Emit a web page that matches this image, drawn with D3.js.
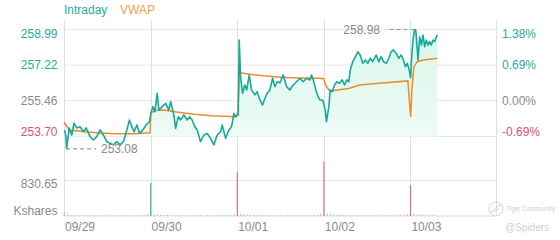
<!DOCTYPE html>
<html><head><meta charset="utf-8">
<script src="https://cdn.jsdelivr.net/npm/d3@7"></script>
<style>
html,body{margin:0;padding:0;background:#fff;}
svg{display:block;font-family:"Liberation Sans",Arial,sans-serif;}
</style></head>
<body><svg id="c" width="560" height="240"></svg>
<script>
// ---- data ----
const dayLabels = ["09/29","09/30","10/01","10/02","10/03"];
const prevClose = 255.46;
const priceTicks = [258.99, 257.22, 255.46, 253.70];
const pctTicks = ["1.38%","0.69%","0.00%","-0.69%"];
const volTick = 830.65;
const volUnit = "Kshares";
const highPrice = 258.98, highT = 4.048;
const lowPrice = 253.08, lowT = 0.03;

// time in trading days (0 = 09/29 open), price
const intraT = [
 0.008,0.022,0.030,0.061,0.089,0.116,0.147,0.185,0.223,0.255,0.301,0.339,0.378,0.417,0.455,0.494,0.532,0.571,0.610,0.648,0.686,0.726,0.756,0.784,0.810,0.841,0.872,0.911,0.949,0.987,
 1.003,1.027,1.050,1.076,1.096,1.134,1.173,1.211,1.231,1.269,1.289,1.319,1.346,1.385,1.423,1.450,1.480,1.511,1.538,1.577,1.615,1.653,1.692,1.730,1.769,1.808,1.827,1.866,1.904,1.935,1.962,1.981,
 2.012,2.023,2.039,2.062,2.089,2.109,2.139,2.166,2.204,2.231,2.262,2.293,2.320,2.346,2.377,2.409,2.435,2.462,2.493,2.531,2.570,2.608,2.646,2.685,2.723,2.761,2.801,2.839,2.858,2.885,2.908,2.935,2.954,2.985,2.999,
 3.016,3.031,3.058,3.074,3.097,3.124,3.150,3.181,3.212,3.239,3.266,3.289,3.305,3.335,3.366,3.393,3.420,3.450,3.482,3.508,3.536,3.566,3.605,3.635,3.663,3.690,3.721,3.751,3.778,3.805,3.836,3.866,3.894,3.920,3.943,3.963,3.982,
 4.003,4.010,4.029,4.048,4.062,4.088,4.107,4.127,4.145,4.165,4.184,4.203,4.222,4.241,4.261,4.280,4.299,4.311
];
const intraP = [
 254.02,253.69,253.08,254.12,253.77,254.36,254.12,254.18,253.93,254.12,253.69,253.52,253.69,254.02,253.77,253.44,253.36,253.28,253.44,253.28,253.44,254.02,254.51,254.18,253.93,254.26,253.85,254.02,254.26,254.43,
 254.84,255.17,254.92,255.83,255.00,255.17,255.34,255.00,255.42,254.76,254.10,254.67,254.51,254.76,254.51,254.67,254.51,254.18,254.02,253.44,253.77,253.85,253.61,253.28,253.77,253.93,254.26,253.61,254.02,254.18,254.84,254.67,
 254.76,258.46,256.65,255.83,256.24,255.99,256.73,255.99,255.75,255.91,255.50,255.25,255.58,255.83,255.99,256.57,256.16,256.40,256.35,256.73,256.16,255.99,256.24,256.40,256.57,256.40,256.57,256.49,256.73,256.40,255.99,255.66,255.50,255.50,255.34,
 255.00,254.43,255.17,255.99,255.91,256.24,256.40,256.32,256.49,256.24,256.49,256.40,256.98,257.39,257.64,257.88,257.72,257.31,257.47,257.31,257.56,257.39,257.72,257.39,257.64,257.39,257.31,257.56,257.88,257.97,257.80,257.56,257.72,257.47,257.14,257.31,257.06,
 256.60,257.31,258.46,258.98,258.95,257.47,258.62,258.21,258.71,258.13,258.46,258.21,258.38,258.21,258.46,258.38,258.62,258.71
];
const vwapT = [0.0,0.06,0.2,0.4,0.6,0.8,0.995, 1.003,1.05,1.15,1.3,1.5,1.7,1.985, 2.008,2.025,2.1,2.3,2.5,2.7,2.95,2.999, 3.016,3.04,3.06,3.104,3.297,3.413,3.644,3.971, 4.003,4.020,4.040,4.080,4.150,4.311];
const vwapP = [254.40,254.02,253.95,253.87,253.83,253.83,253.88, 254.84,254.98,255.00,254.90,254.80,254.72,254.67, 254.90,256.85,256.80,256.70,256.62,256.59,256.57,256.55, 256.30,256.10,255.99,255.96,256.08,256.24,256.32,256.44, 254.67,256.16,257.14,257.39,257.47,257.56];

// volume, Kshares per 15-min bar (positive = up bar, negative = down bar)
const vol0 = [-95,30,-20,25,15,-20,18,12,-15,20,10,-12,15,18,-10,12,14,-16,20,12,-15,18,22,-25,30,40];
const vol1 = [772,40,-35,25,20,-30,18,15,-20,12,16,-14,10,18,-20,15,12,-22,14,16,-18,20,25,-30,35,45];
const vol2 = [-1037,60,-40,30,25,-35,20,18,-22,16,14,-18,15,20,-16,12,18,-20,15,14,-18,22,20,-28,30,-60];
const vol3 = [-1271,70,-45,35,28,-30,24,20,-18,22,16,-15,18,14,-20,16,12,-18,20,15,-22,24,18,-25,30,-50];
const vol4 = [-725,60,-40,35,-30,25,20,-22];

// ---- drawing ----
const svg = d3.select("#c");
const teal = "#16a99a", orange = "#ef8a2a", red = "#e0506e", gray = "#8a8a8a", grid = "#e6e6e6";
const L = 64, R = 496;
const x = d3.scaleLinear().domain([0,5]).range([L, 497]);
const y = d3.scaleLinear().domain([253.70, 258.99]).range([136.4, 29.3]);
const yv = d3.scaleLinear().domain([0, volTick]).range([216, 180.5]);

// defs
const defs = svg.append("defs");
const g = defs.append("linearGradient").attr("id","mint").attr("x1",0).attr("y1",0).attr("x2",0).attr("y2",1);
g.append("stop").attr("offset","0%").attr("stop-color","#d8f6ea");
g.append("stop").attr("offset","100%").attr("stop-color","#f1fcf7");
defs.append("clipPath").attr("id","clipP").append("rect").attr("x",L).attr("y",0).attr("width",R-L).attr("height",y(253.70));

// horizontal grid (price)
svg.append("g").selectAll("line").data(priceTicks).join("line")
  .attr("x1",L).attr("x2",R).attr("y1",d=>y(d)).attr("y2",d=>y(d))
  .attr("stroke",grid).attr("stroke-width",1);
// volume grid
svg.append("line").attr("x1",L).attr("x2",R).attr("y1",yv(volTick)).attr("y2",yv(volTick)).attr("stroke",grid);
svg.append("line").attr("x1",L).attr("x2",R).attr("y1",yv(0)).attr("y2",yv(0)).attr("stroke","#dcdcdc");
// vertical grid / frame
const vt = [0,1,2,3,4];
svg.append("g").selectAll("line").data(vt).join("line")
  .attr("x1",d=>Math.round(x(d))+0.5).attr("x2",d=>Math.round(x(d))+0.5).attr("y1",20).attr("y2",216)
  .attr("stroke","#e0e0e0");
svg.append("line").attr("x1",R+0.5).attr("x2",R+0.5).attr("y1",20).attr("y2",216).attr("stroke","#e0e0e0");

// area
const pts = intraT.map((t,i)=>[t,intraP[i]]);
svg.append("path").datum(pts).attr("clip-path","url(#clipP)")
  .attr("d", d3.area().x(d=>x(d[0])).y0(y(253.70)).y1(d=>y(d[1])))
  .attr("fill","url(#mint)");

// volume bars
const vols = [vol0,vol1,vol2,vol3,vol4];
const vbars = [];
vols.forEach((arr,d)=>arr.forEach((v,i)=>vbars.push({t:d+i/26, v})));
svg.append("g").selectAll("rect").data(vbars).join("rect")
  .attr("x",d=>x(d.t)-0.5).attr("width",1.2)
  .attr("y",d=>yv(Math.abs(d.v))).attr("height",d=>yv(0)-yv(Math.abs(d.v)))
  .attr("fill",d=>d.v>=0?teal:red).attr("opacity",d=>Math.abs(d.v)>200?0.8:0.4);

// lines
svg.append("path").datum(vwapT.map((t,i)=>[t,vwapP[i]]))
  .attr("d", d3.line().x(d=>x(d[0])).y(d=>y(d[1])))
  .attr("fill","none").attr("stroke",orange).attr("stroke-width",1.5);
svg.append("path").datum(pts)
  .attr("d", d3.line().x(d=>x(d[0])).y(d=>y(d[1])))
  .attr("fill","none").attr("stroke",teal).attr("stroke-width",1.6).attr("stroke-linejoin","round");

// left axis labels
const lcol = i => i<2 ? "#2aa99b" : (i===2 ? gray : red);
svg.append("g").selectAll("text").data(priceTicks).join("text")
  .attr("x",57.5).attr("text-anchor","end").attr("font-size",12)
  .attr("y",(d,i)=> i===0 ? y(d)+9 : (i===3 ? y(d)-0.5 : y(d)+4.3))
  .attr("fill",(d,i)=>lcol(i)).text(d=>d.toFixed(2));
svg.append("g").selectAll("text").data(pctTicks).join("text")
  .attr("x",502).attr("text-anchor","start").attr("font-size",12)
  .attr("y",(d,i)=> i===0 ? y(priceTicks[i])+9 : (i===3 ? y(priceTicks[i])-0.5 : y(priceTicks[i])+4.3))
  .attr("fill",(d,i)=>lcol(i)).text(d=>d);
svg.append("text").attr("x",57.5).attr("y",yv(volTick)+7.5).attr("text-anchor","end").attr("font-size",12).attr("fill",gray).text(volTick.toFixed(2));
svg.append("text").attr("x",57.5).attr("y",214.5).attr("text-anchor","end").attr("font-size",12).attr("fill",gray).text(volUnit);

// x labels
svg.append("g").selectAll("text").data(dayLabels).join("text")
  .attr("x",(d,i)=>x(i)+1).attr("y",231).attr("font-size",12).attr("fill",gray).text(d=>d);

// legend
svg.append("text").attr("x",64).attr("y",14).attr("font-size",12).attr("fill","#2aa99b").text("Intraday");
svg.append("text").attr("x",120).attr("y",14).attr("font-size",12).attr("fill","#f0a04e").text("VWAP");

// high / low annotations
const hy = y(highPrice);
svg.append("line").attr("x1",x(highT)).attr("x2",386).attr("y1",hy).attr("y2",hy)
  .attr("stroke","#999").attr("stroke-dasharray","4,3").attr("stroke-width",1.2);
svg.append("text").attr("x",380).attr("y",hy+4.3).attr("text-anchor","end").attr("font-size",12).attr("fill",gray).text(highPrice.toFixed(2));
const ly = y(lowPrice);
svg.append("line").attr("x1",x(lowT)-0.5).attr("x2",96).attr("y1",ly).attr("y2",ly)
  .attr("stroke","#999").attr("stroke-dasharray","4,3").attr("stroke-width",1.2);
svg.append("text").attr("x",101).attr("y",ly+4.3).attr("font-size",12).attr("fill",gray).text(lowPrice.toFixed(2));

// watermark
svg.append("circle").attr("cx",496).attr("cy",209).attr("r",7).attr("fill","none").attr("stroke","#d4d4d4").attr("stroke-width",1);
svg.append("path").attr("d","M491,213 Q496,206 501,205 M494,212 q2,-3 5,-3").attr("fill","none").attr("stroke","#d4d4d4");
svg.append("text").attr("x",506).attr("y",211).attr("font-size",6.5).attr("fill","#cfcfcf").text("Tiger Community");
svg.append("text").attr("x",505).attr("y",231).attr("font-size",10).attr("fill","#cfcfcf").text("@Spiders");
</script></body></html>
